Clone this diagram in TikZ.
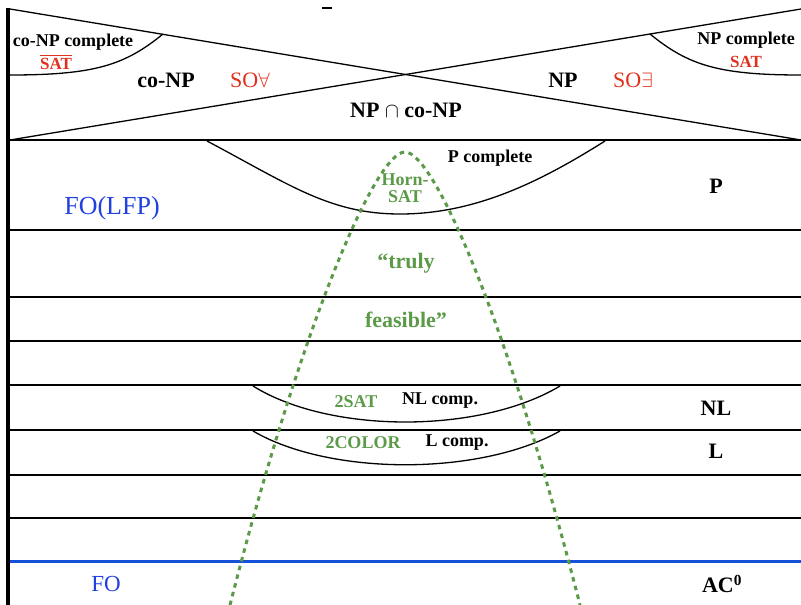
\documentclass[tikz,border=0pt]{standalone}
\usepackage{fontspec}
\setmainfont{Liberation Serif}
\usetikzlibrary{positioning}
\definecolor{horngreen}{HTML}{5B9A48}
\definecolor{logicblue}{HTML}{2040E0}
\definecolor{acblue}{HTML}{1450D8}
\definecolor{satred}{HTML}{E0301E}
\tikzset{
  band/.style={line width=1.3pt, draw=black},
  rim/.style={line width=3.5pt, draw=black},
  acline/.style={line width=3pt, draw=acblue},
  feasline/.style={line width=3pt, draw=horngreen, dash pattern=on 4.5pt off 4.5pt},
  cls/.style={inner sep=0pt, font=\bfseries\fontsize{22}{24}\selectfont, text=black},
  smallcls/.style={inner sep=0pt, font=\bfseries\fontsize{18}{19}\selectfont, text=black},
  prob/.style={inner sep=0pt, font=\bfseries\fontsize{18}{17}\selectfont, text=horngreen, align=center},
  satlabel/.style={inner sep=0pt, font=\bfseries\fontsize{17}{19}\selectfont, text=satred},
  logic/.style={inner sep=0pt, font=\fontsize{23}{25}\selectfont, text=logicblue},
  solabel/.style={inner sep=0pt, font=\fontsize{22}{24}\selectfont, text=satred},
  quote/.style={inner sep=0pt, font=\bfseries\fontsize{22}{24}\selectfont, text=horngreen}
}

\begin{document}
\begin{tikzpicture}[x=1pt,y=-1pt]
\useasboundingbox (0,0) rectangle (801,605);
% frame and bands
\draw[rim] (8,8) -- (8,605);
\draw[line width=1.3pt] (322,8) -- (332,8);
\draw[band] (10,9) -- (801,140);
\draw[band] (10,140) -- (801,9);
\foreach \y in {140,230,297,341,385,430,475,518}
  \draw[band] (10,\y) -- (801,\y);
\draw[acline] (10,561) -- (801,561);
% complete problems
\draw[band] (163,34) .. controls (125,65) and (95,75) .. (10,75);
\draw[band] (650,34) .. controls (688,65) and (718,75) .. (801,75);
\draw[band] (207,141) .. controls (290,185) and (330,214) .. (400,214)
  .. controls (475,214) and (540,182) .. (605,141);
\draw[band] (253,386) .. controls (330,434) and (480,434) .. (560,386);
\draw[band] (253,431) .. controls (330,476) and (480,476) .. (560,431);
% feasible region
\draw[feasline] (230,605) .. controls (300,330) and (375,152) .. (405,152)
  .. controls (435,152) and (510,330) .. (580,605);
% labels
\node[smallcls] (conpc) at (73,42) {co-NP complete};
\node[satlabel] (satbar) at (56,64) {SAT};
\draw[satred, line width=1.4pt] ([yshift=2.5pt]satbar.north west) -- ([yshift=2.5pt]satbar.north east);
\node[cls] (conp) at (166,80) {co-NP};
\node[solabel] (soall) at (250,80) {SO$\forall$};
\node[cls] (np) at (563,80) {NP};
\node[solabel] (soex) at (633,80) {SO$\exists$};
\node[smallcls] (npc) at (746,40) {NP complete};
\node[satlabel] (sat) at (746,62) {SAT};
\node[cls] (npconp) at (406,110) {NP $\cap$ co-NP};
\node[smallcls] (pc) at (490,158) {P complete};
\node[prob] (horn) at (405,188) {Horn-\\SAT};
\node[logic, font=\fontsize{26}{28}\selectfont] (folfp) at (112,208) {FO(LFP)};
\node[cls] (p) at (716,186) {P};
\node[quote] (truly) at (406,263) {“truly};
\node[quote] (feas) at (406,320) {feasible”};
\node[prob] (twosat) at (356,402) {2SAT};
\node[smallcls] (nlc) at (440,401) {NL comp.};
\node[cls] (nl) at (716,408) {NL};
\node[prob] (twocol) at (363,443) {2COLOR};
\node[smallcls] (lc) at (457,443) {L comp.};
\node[cls] (l) at (716,451) {L};
\node[logic] (fo) at (106,584) {FO};
\node[cls] (ac) at (722,584) {AC\textsuperscript{0}};
\end{tikzpicture}
\end{document}
